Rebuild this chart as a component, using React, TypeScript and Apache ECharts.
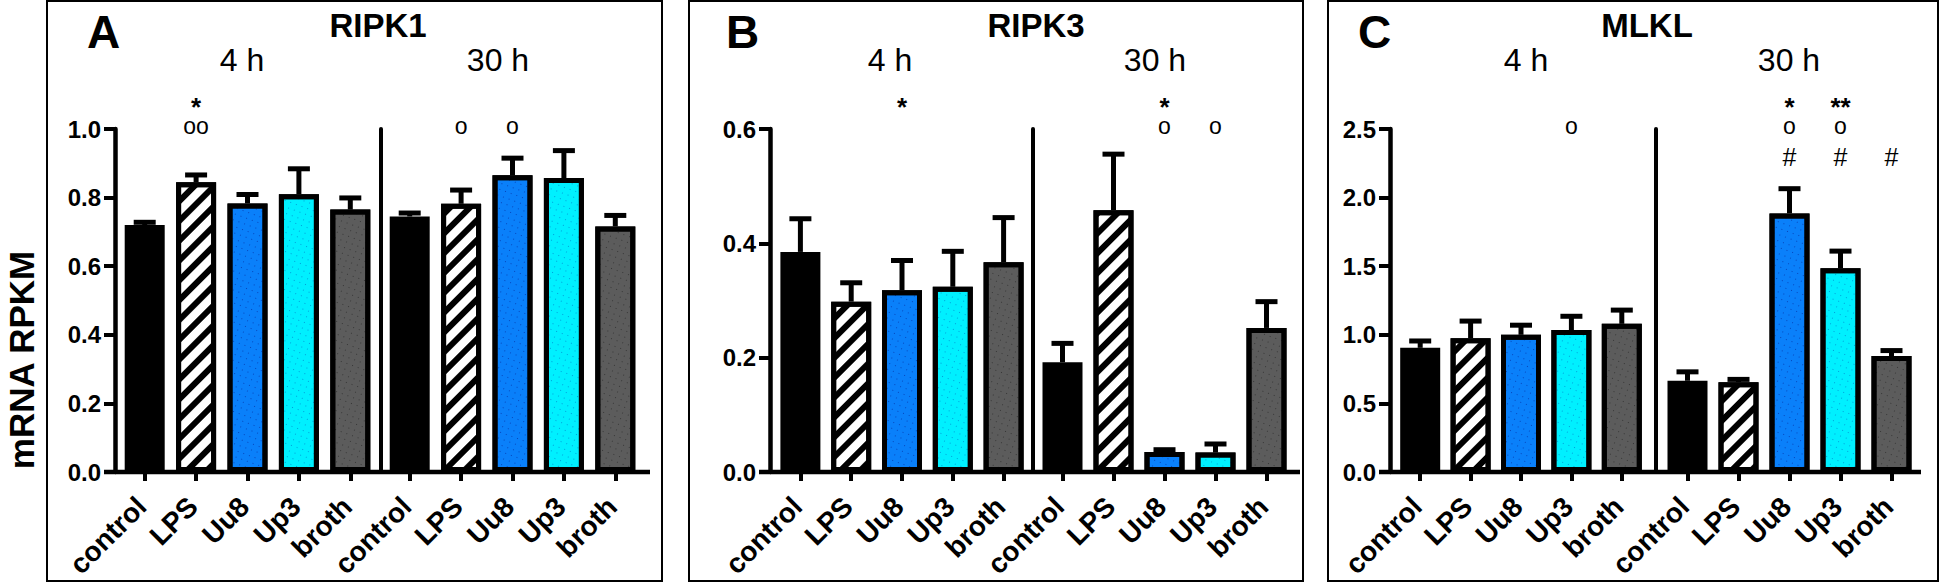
import React, { useEffect, useRef } from 'react';
import * as echarts from 'echarts';

// ---------- data ----------
const categories = ['control', 'LPS', 'Uu8', 'Up3', 'broth'];
const timepoints = ['4 h', '30 h'];
const genes = ['RIPK1', 'RIPK3', 'MLKL'];
const panelLetters = ['A', 'B', 'C'];
const yAxisTitle = 'mRNA RPKM';

const ripk1_4h = [0.72, 0.845, 0.783, 0.81, 0.765];
const ripk1_4h_err = [0.008, 0.021, 0.026, 0.074, 0.034];
const ripk1_30h = [0.745, 0.782, 0.865, 0.857, 0.716];
const ripk1_30h_err = [0.01, 0.04, 0.05, 0.08, 0.032];

const ripk3_4h = [0.385, 0.298, 0.318, 0.324, 0.367];
const ripk3_4h_err = [0.058, 0.033, 0.052, 0.062, 0.078];
const ripk3_30h = [0.192, 0.458, 0.035, 0.034, 0.252];
const ripk3_30h_err = [0.033, 0.098, 0.004, 0.015, 0.046];

const mlkl_4h = [0.905, 0.975, 1.0, 1.035, 1.08];
const mlkl_4h_err = [0.05, 0.125, 0.07, 0.1, 0.1];
const mlkl_30h = [0.665, 0.655, 1.885, 1.485, 0.845];
const mlkl_30h_err = [0.065, 0.02, 0.18, 0.125, 0.04];

const yMaxes = [1.0, 0.6, 2.5];
const yIntervals = [0.2, 0.2, 0.5];

// significance marks: time index, category index, star row, circle row, hash row
const ripk1Marks = [
  { time: 0, cat: 1, star: '*', circle: 'oo', hash: '' },
  { time: 1, cat: 1, star: '', circle: 'o', hash: '' },
  { time: 1, cat: 2, star: '', circle: 'o', hash: '' },
];
const ripk3Marks = [
  { time: 0, cat: 2, star: '*', circle: '', hash: '' },
  { time: 1, cat: 2, star: '*', circle: 'o', hash: '' },
  { time: 1, cat: 3, star: '', circle: 'o', hash: '' },
];
const mlklMarks = [
  { time: 0, cat: 3, star: '', circle: 'o', hash: '' },
  { time: 1, cat: 2, star: '*', circle: 'o', hash: '#' },
  { time: 1, cat: 3, star: '**', circle: 'o', hash: '#' },
  { time: 1, cat: 4, star: '', circle: '', hash: '#' },
];

const panelValues = [
  [[ripk1_4h, ripk1_4h_err], [ripk1_30h, ripk1_30h_err]],
  [[ripk3_4h, ripk3_4h_err], [ripk3_30h, ripk3_30h_err]],
  [[mlkl_4h, mlkl_4h_err], [mlkl_30h, mlkl_30h_err]],
];
const panelMarks = [ripk1Marks, ripk3Marks, mlklMarks];

// ---------- layout / style ----------
const FONT = '"Liberation Sans", Arial, Helvetica, sans-serif';
const TOP = 129;
const BOTTOM = 472;
const LABEL_DX = -13;
const LABEL_DY = 20;
const LABEL_SIZE = 28;
const PANELS = [
  { yAxisX: 115, g1: [119, 376], div: 381, g2: [384, 641], axisEnd: 650, box: [47, 662], letterX: 87, titleX: 378, t4: 242, t30: 498 },
  { yAxisX: 770, g1: [775, 1029], div: 1033, g2: [1037, 1292], axisEnd: 1300, box: [689, 1303], letterX: 726, titleX: 1036, t4: 890, t30: 1155 },
  { yAxisX: 1390, g1: [1395, 1647], div: 1656, g2: [1662, 1917], axisEnd: 1921, box: [1328, 1938], letterX: 1358, titleX: 1647, t4: 1526, t30: 1789 },
];

const dots = (c: string) => ({
  symbol: 'rect',
  symbolSize: 1,
  dashArrayX: [1, 5],
  dashArrayY: [1, 5],
  rotation: 0.35,
  color: c,
});

const FILLS: any[] = [
  { color: '#000000' },
  {
    color: '#ffffff',
    decal: {
      symbol: 'rect',
      symbolSize: 1,
      dashArrayX: [[1, 0]],
      dashArrayY: [5.5, 8],
      rotation: -Math.PI / 4,
      color: '#000000',
    },
  },
  { color: '#0a80fa', decal: dots('rgba(0,0,110,0.45)') },
  { color: '#00f0ff', decal: dots('rgba(0,40,160,0.4)') },
  { color: '#5c5c5c', decal: dots('rgba(0,0,0,0.4)') },
];

function buildOption() {
  const grid: any[] = [];
  const xAxis: any[] = [];
  const yAxis: any[] = [];
  const series: any[] = [];
  const graphic: any[] = [];

  PANELS.forEach((p, pi) => {
    const yMax = yMaxes[pi];
    [0, 1].forEach((t) => {
      const gi = grid.length;
      const [gl, gr] = t === 0 ? p.g1 : p.g2;
      const [vals, errs] = panelValues[pi][t];
      grid.push({ left: gl, top: TOP, width: gr - gl, height: BOTTOM - TOP });
      xAxis.push({
        type: 'category',
        gridIndex: gi,
        data: categories,
        boundaryGap: true,
        axisLine: { show: false },
        axisTick: { show: true, alignWithLabel: true, length: 9, lineStyle: { color: '#000', width: 4 } },
        axisLabel: { show: false },
      });
      yAxis.push({
        type: 'value',
        gridIndex: gi,
        min: 0,
        max: yMax,
        interval: yIntervals[pi],
        offset: t === 0 ? gl - p.yAxisX : gl - p.div,
        axisLine: { show: true, lineStyle: { color: '#000', width: t === 0 ? 4.5 : 4 } },
        axisTick: { show: t === 0, length: 11, lineStyle: { color: '#000', width: 4 } },
        axisLabel: {
          show: t === 0,
          margin: 14,
          fontSize: 24,
          fontWeight: 'bold',
          color: '#000',
          fontFamily: FONT,
          formatter: (v: number) => v.toFixed(1),
        },
        splitLine: { show: false },
      });
      series.push({
        type: 'bar',
        xAxisIndex: gi,
        yAxisIndex: gi,
        barWidth: 40,
        z: 2,
        data: vals.map((v: number, i: number) => ({
          value: v,
          itemStyle: { ...FILLS[i], borderColor: '#000', borderWidth: 5 },
        })),
      });
      series.push({
        type: 'custom',
        xAxisIndex: gi,
        yAxisIndex: gi,
        z: 3,
        clip: false,
        encode: { x: 0, y: 1 },
        data: vals.map((v: number, i: number) => [i, v, errs[i]]),
        renderItem: (params: any, api: any) => {
          const c = api.value(0);
          const v = api.value(1);
          const e = api.value(2);
          const p0 = api.coord([c, v]);
          const p1 = api.coord([c, v + e]);
          return {
            type: 'group',
            children: [
              { type: 'line', shape: { x1: p0[0], y1: p0[1], x2: p1[0], y2: p1[1] }, style: { stroke: '#000', lineWidth: 5 } },
              { type: 'line', shape: { x1: p1[0] - 11, y1: p1[1], x2: p1[0] + 11, y2: p1[1] }, style: { stroke: '#000', lineWidth: 5 } },
            ],
          };
        },
      });
      // rotated category labels, placed at each category's tick through the axis scale
      series.push({
        type: 'custom',
        xAxisIndex: gi,
        yAxisIndex: gi,
        z: 5,
        clip: false,
        silent: true,
        data: categories.map((c, i) => [i, 0]),
        renderItem: (params: any, api: any) => {
          const pt = api.coord([api.value(0), api.value(1)]);
          return {
            type: 'text',
            x: pt[0] + LABEL_DX,
            y: pt[1] + LABEL_DY,
            rotation: Math.PI / 4,
            style: {
              text: categories[params.dataIndex],
              fill: '#000',
              fontSize: LABEL_SIZE,
              fontWeight: 'bold',
              fontFamily: FONT,
              textAlign: 'right',
              textVerticalAlign: 'top',
            },
          };
        },
      });
      const marks = panelMarks[pi].filter((m) => m.time === t);
      if (marks.length) {
        series.push({
          type: 'custom',
          xAxisIndex: gi,
          yAxisIndex: gi,
          z: 4,
          clip: false,
          data: marks.map((m) => [m.cat, yMax]),
          renderItem: (params: any, api: any) => {
            const m = marks[params.dataIndex];
            const pt = api.coord([api.value(0), api.value(1)]);
            const x = pt[0];
            const top = pt[1];
            const mk = (text: string, dy: number, size: number, weight: string) => ({
              type: 'text',
              x,
              y: top + dy,
              style: {
                text,
                fill: '#000',
                fontSize: size,
                fontWeight: weight,
                fontFamily: FONT,
                textAlign: 'center',
                textVerticalAlign: 'middle',
              },
            });
            const children: any[] = [];
            if (m.star) children.push(mk(m.star, -22, 26, 'bold'));
            if (m.circle) children.push(mk(m.circle, -3, 23, 'normal'));
            if (m.hash) children.push(mk(m.hash, 28, 25, 'normal'));
            return { type: 'group', children };
          },
        });
      }
    });

    // panel frame
    graphic.push({
      type: 'rect',
      shape: { x: p.box[0], y: 1, width: p.box[1] - p.box[0], height: 580 },
      style: { fill: 'none', stroke: '#000', lineWidth: 2 },
    });
    // baseline (x axis line across both time groups)
    graphic.push({
      type: 'line',
      shape: { x1: p.yAxisX - 11, y1: BOTTOM, x2: p.axisEnd, y2: BOTTOM },
      style: { stroke: '#000', lineWidth: 4.5 },
      z: 10,
    });
    graphic.push({
      type: 'text',
      x: p.letterX,
      y: 32,
      style: { text: panelLetters[pi], fontSize: 46, fontWeight: 'bold', fontFamily: FONT, fill: '#000', textAlign: 'left', textVerticalAlign: 'middle' },
    });
    graphic.push({
      type: 'text',
      x: p.titleX,
      y: 25,
      style: { text: genes[pi], fontSize: 33, fontWeight: 'bold', fontFamily: FONT, fill: '#000', textAlign: 'center', textVerticalAlign: 'middle' },
    });
    graphic.push({
      type: 'text',
      x: p.t4,
      y: 60,
      style: { text: timepoints[0], fontSize: 32, fontFamily: FONT, fill: '#000', textAlign: 'center', textVerticalAlign: 'middle' },
    });
    graphic.push({
      type: 'text',
      x: p.t30,
      y: 60,
      style: { text: timepoints[1], fontSize: 32, fontFamily: FONT, fill: '#000', textAlign: 'center', textVerticalAlign: 'middle' },
    });
  });

  graphic.push({
    type: 'text',
    x: 21,
    y: 360,
    rotation: Math.PI / 2,
    style: { text: yAxisTitle, fontSize: 35, fontWeight: 'bold', fontFamily: FONT, fill: '#000', textAlign: 'center', textVerticalAlign: 'middle' },
  });

  return {
    animation: false,
    backgroundColor: '#ffffff',
    grid,
    xAxis,
    yAxis,
    series,
    graphic,
  };
}

export default function App() {
  const ref = useRef<HTMLDivElement>(null);
  useEffect(() => {
    if (!ref.current) return;
    const chart = echarts.init(ref.current, undefined, { renderer: 'svg' });
    chart.setOption(buildOption() as any);
    return () => chart.dispose();
  }, []);
  return (
    <div
      ref={ref}
      style={{ position: 'fixed', left: 0, top: 0, width: 1941, height: 583, background: '#fff' }}
    />
  );
}
